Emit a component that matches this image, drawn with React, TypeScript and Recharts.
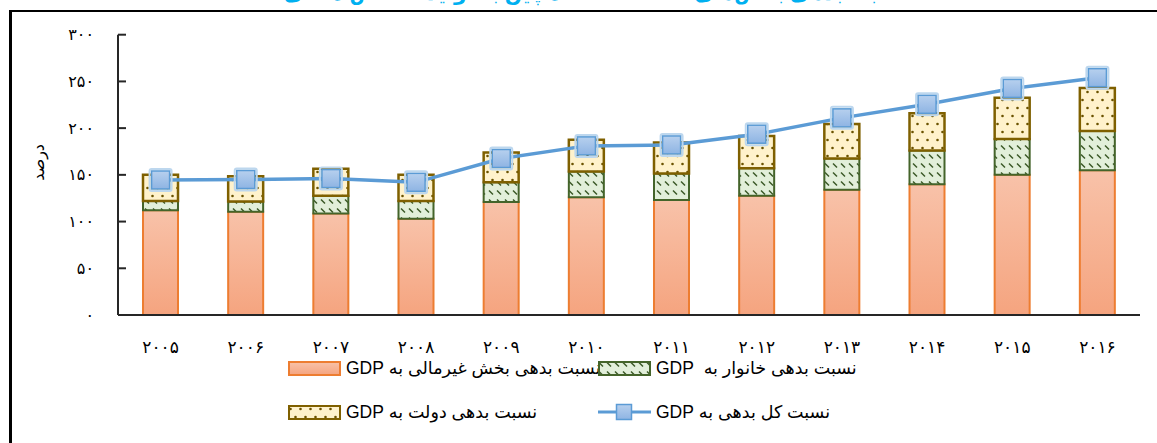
import React from "react";
import { ComposedChart, Bar, Line, XAxis, YAxis } from "recharts";

// Debt-to-GDP ratios (percent), 2005-2016
const years = ["2005", "2006", "2007", "2008", "2009", "2010", "2011", "2012", "2013", "2014", "2015", "2016"];
const nonFinancialDebt = [112, 110.5, 108.5, 103, 121, 126, 123, 127.5, 134, 140, 150, 155];
const householdDebt = [10, 11, 19, 19, 21, 27.5, 28.5, 29.5, 33.5, 36, 38.5, 42];
const governmentDebt = [28, 27, 29, 28, 32, 34, 33, 34.5, 37, 40, 44, 46];
const totalDebt = [144.5, 145, 146, 142, 167.5, 181, 182, 193.5, 211, 225.5, 242.5, 254];
const yTicks = [0, 50, 100, 150, 200, 250, 300];

const LABEL_NONFIN = "نسبت بدهی بخش غیرمالی به GDP";
const LABEL_HOUSEHOLD = "نسبت بدهی خانوار به  GDP";
const LABEL_GOV = "نسبت بدهی دولت به GDP";
const LABEL_TOTAL = "نسبت کل بدهی به GDP";
const TITLE = "نسبت بدهی بخش‌های مختلف اقتصاد چین به تولید ناخالص داخلی";

const data = years.map((year, i) => ({
  year,
  nonFinancial: nonFinancialDebt[i],
  household: householdDebt[i],
  government: governmentDebt[i],
  total: totalDebt[i],
}));

const FONT = "'Liberation Sans', 'DejaVu Sans', sans-serif";
const AXIS = "#262626";

const faDigits = (v: number | string) =>
  String(v).replace(/[0-9]/g, (d) => String.fromCharCode(0x06f0 + Number(d)));

// shared fills, usable by the chart and the legend swatches
function Fills() {
  return (
    <defs>
      <linearGradient id="orangeFill" x1="0" y1="0" x2="0" y2="1">
        <stop offset="0%" stopColor="#F8C2A9" />
        <stop offset="100%" stopColor="#F5A47F" />
      </linearGradient>
      <pattern id="greenHatch" width="8" height="9" patternUnits="userSpaceOnUse">
        <rect width="8" height="9" fill="#E2EFDA" />
        <line x1="1" y1="1.5" x2="5" y2="5.5" stroke="#375623" strokeWidth="1.4" />
      </pattern>
      <pattern id="yellowDots" width="10" height="16" patternUnits="userSpaceOnUse">
        <rect width="10" height="16" fill="#FFF2CC" />
        <circle cx="2.5" cy="4" r="1.3" fill="#6B5200" />
        <circle cx="7.5" cy="12" r="1.3" fill="#6B5200" />
      </pattern>
      <linearGradient id="markerFill" x1="0" y1="0" x2="0" y2="1">
        <stop offset="0%" stopColor="#B7D0EE" />
        <stop offset="100%" stopColor="#8EB4E3" />
      </linearGradient>
    </defs>
  );
}

// eslint-disable-next-line @typescript-eslint/no-explicit-any
function SquareDot(props: any) {
  const { cx, cy } = props;
  if (cx == null || cy == null) return null;
  return (
    <g>
      <rect x={cx - 11} y={cy - 11} width={22} height={22} rx={2} fill="none" stroke="#BDD7EE" strokeWidth={2} />
      <rect x={cx - 9} y={cy - 9} width={18} height={18} fill="url(#markerFill)" stroke="#5B9BD5" strokeWidth={1.5} />
    </g>
  );
}

// eslint-disable-next-line @typescript-eslint/no-explicit-any
function YTick({ x, y, payload }: any) {
  return (
    <g>
      <line x1={x} x2={x + 8} y1={y} y2={y} stroke={AXIS} strokeWidth={2} />
      <text x={x - 24} y={y} dy="0.35em" textAnchor="end" fontSize={16} fill="#000" fontFamily={FONT}>
        {faDigits(payload.value)}
      </text>
    </g>
  );
}

// eslint-disable-next-line @typescript-eslint/no-explicit-any
function XTick({ x, y, payload }: any) {
  return (
    <text x={x} y={y + 38} textAnchor="middle" fontSize={17} fill="#000" fontFamily={FONT}>
      {faDigits(payload.value)}
    </text>
  );
}

function Swatch({ fill, stroke }: { fill: string; stroke: string }) {
  return (
    <svg width={53} height={15} style={{ display: "block" }}>
      <Fills />
      <rect x={1} y={1} width={51} height={13} fill={fill} stroke={stroke} strokeWidth={2} />
    </svg>
  );
}

function LineSwatch() {
  return (
    <svg width={53} height={18} style={{ display: "block" }}>
      <Fills />
      <line x1={0} x2={53} y1={9} y2={9} stroke="#5B9BD5" strokeWidth={3} />
      <rect x={18.5} y={1.5} width={15} height={15} fill="url(#markerFill)" stroke="#5B9BD5" strokeWidth={1.5} />
    </svg>
  );
}

function LegendItem({ left, top, icon, text }: { left: number; top: number; icon: React.ReactNode; text: string }) {
  return (
    <div style={{ position: "absolute", left, top, height: 24, display: "flex", alignItems: "center", gap: 5 }}>
      {icon}
      <span dir="rtl" style={{ fontSize: 17.5, whiteSpace: "pre", color: "#000", lineHeight: "24px" }}>
        {text}
      </span>
    </div>
  );
}

export default function App() {
  return (
    <div
      style={{
        position: "absolute",
        left: 0,
        top: 0,
        width: 1157,
        height: 443,
        overflow: "hidden",
        background: "#fff",
        fontFamily: FONT,
      }}
    >
      <div
        dir="rtl"
        style={{
          position: "absolute",
          left: 0,
          width: 1190,
          top: -19,
          textAlign: "center",
          fontSize: 20,
          fontWeight: 700,
          color: "#00B0F0",
          lineHeight: "24px",
        }}
      >
        {TITLE}
      </div>
      <div
        style={{
          position: "absolute",
          left: 9,
          top: 10,
          width: 1200,
          height: 500,
          borderLeft: "3px solid #000",
          borderTop: "2px solid #000",
        }}
      />
      <div style={{ position: "absolute", left: 0, top: 0 }}>
        <ComposedChart width={1157} height={443} data={data} margin={{ top: 34.7, right: 17, left: 0, bottom: 0 }}>
          <Fills />
          <XAxis
            dataKey="year"
            height={128}
            axisLine={{ stroke: AXIS, strokeWidth: 2 }}
            tickLine={false}
            tickSize={0}
            tickMargin={0}
            tick={<XTick />}
            interval={0}
          />
          <YAxis
            width={118}
            domain={[0, 300]}
            ticks={yTicks}
            interval={0}
            axisLine={{ stroke: AXIS, strokeWidth: 2 }}
            tickLine={false}
            tickSize={0}
            tickMargin={0}
            tick={<YTick />}
            label={{
              value: "درصد",
              angle: -90,
              position: "insideLeft",
              offset: 38,
              dy: 6,
              style: { fontSize: 16, fill: "#000", fontFamily: FONT },
            }}
          />
          <Bar dataKey="nonFinancial" stackId="debt" barSize={35} fill="url(#orangeFill)" stroke="#ED7D31" strokeWidth={2} isAnimationActive={false} />
          <Bar dataKey="household" stackId="debt" barSize={35} fill="url(#greenHatch)" stroke="#44642A" strokeWidth={2} isAnimationActive={false} />
          <Bar dataKey="government" stackId="debt" barSize={35} fill="url(#yellowDots)" stroke="#7F6000" strokeWidth={2.5} isAnimationActive={false} />
          <Line
            dataKey="total"
            type="linear"
            stroke="#5B9BD5"
            strokeWidth={3.5}
            dot={<SquareDot />}
            activeDot={false}
            isAnimationActive={false}
          />
        </ComposedChart>
      </div>
      <LegendItem left={288} top={356} icon={<Swatch fill="url(#orangeFill)" stroke="#ED7D31" />} text={LABEL_NONFIN} />
      <LegendItem left={598} top={356} icon={<Swatch fill="url(#greenHatch)" stroke="#44642A" />} text={LABEL_HOUSEHOLD} />
      <LegendItem left={288} top={400} icon={<Swatch fill="url(#yellowDots)" stroke="#7F6000" />} text={LABEL_GOV} />
      <LegendItem left={598} top={400} icon={<LineSwatch />} text={LABEL_TOTAL} />
    </div>
  );
}
